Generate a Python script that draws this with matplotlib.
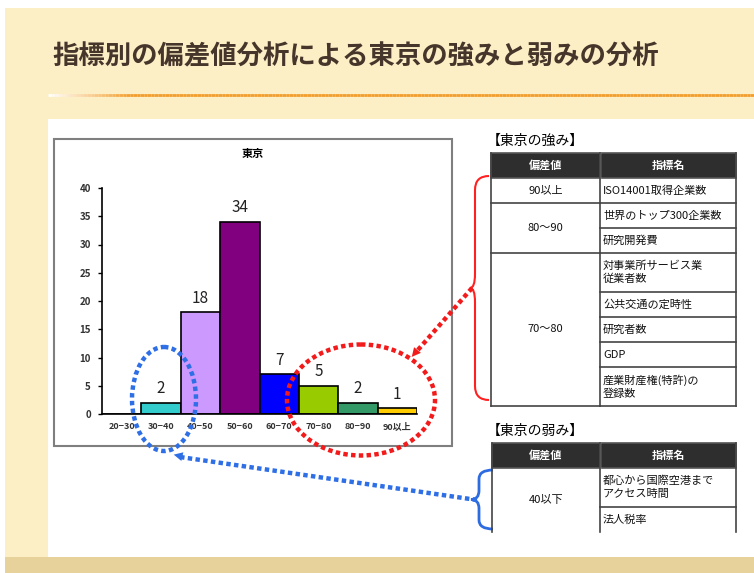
import matplotlib
matplotlib.use('Agg')
import matplotlib.pyplot as plt
from matplotlib.patches import Rectangle, Ellipse, PathPatch
from matplotlib.path import Path
from matplotlib.collections import LineCollection
import numpy as np

plt.rcParams['font.family'] = ['Noto Sans CJK JP', 'DejaVu Sans']

# data
title = '指標別の偏差値分析による東京の強みと弱みの分析'
chart_title = '東京'
ranges = ['20−30', '30−40', '40−50', '50−60', '60−70', '70−80', '80−90', '90以上']
counts = [0, 2, 18, 34, 7, 5, 2, 1]
bar_colors = ['#FFFFFF', '#33CCCC', '#CC99FF', '#800080', '#0000FF', '#99CC00', '#339966', '#FFCC00']
y_ticks = [0, 5, 10, 15, 20, 25, 30, 35, 40]

table_columns = ['偏差値', '指標名']
strength_title = '【東京の強み】'
strength_groups = ['90以上', '80～90', '70～80']
strength_items = [['ISO14001取得企業数'],
                  ['世界のトップ300企業数', '研究開発費'],
                  ['対事業所サービス業\n従業者数', '公共交通の定時性', '研究者数', 'GDP',
                   '産業財産権(特許)の\n登録数']]
weak_title = '【東京の弱み】'
weak_groups = ['40以下']
weak_items = [['都心から国際空港まで\nアクセス時間', '法人税率']]

W, H = 754, 573
fig = plt.figure(figsize=(W / 100, H / 100), dpi=100)
fig.patch.set_facecolor('white')

# background / slide decoration (pixel coords)
bg = fig.add_axes([0, 0, 1, 1])
bg.set_xlim(0, W)
bg.set_ylim(H, 0)
bg.axis('off')
bg.add_patch(Rectangle((5, 8), W - 5, H - 8, fc='#FCEEC5', ec='none'))
bg.add_patch(Rectangle((5, 557), W - 5, 16, fc='#E8D29C', ec='none'))
bg.add_patch(Rectangle((48, 119), W - 48, 438, fc='white', ec='none'))

# orange rule fading in from the left
xs = np.linspace(48, W, 200)
segs = [[(xs[i], 95), (xs[i + 1], 95)] for i in range(len(xs) - 1)]
orange = np.array([0.95, 0.62, 0.18])
fade = np.clip((xs[:-1] - 48) / 80, 0, 1)[:, None]
cols = (1 - fade) * np.array([1, 1, 1]) + fade * orange
bg.add_collection(LineCollection(segs, colors=cols, linewidths=2))

fig.text(52 / W, 1 - 57 / H, title, fontsize=19, fontweight='bold', color='#45352A',
         ha='left', va='center')

# chart frame
bg.add_patch(Rectangle((54, 139), 398, 307, fc='white', ec='#7F7F7F', lw=1.5))
bg.text(253, 154, chart_title, fontsize=8, fontweight='bold', ha='center', va='center')

# histogram
ax = fig.add_axes([102 / W, 1 - 414 / H, 315 / W, 226 / H])
ax.set_facecolor('none')
x = np.arange(len(ranges))
bars = ax.bar(x, counts, width=1.0, color=bar_colors, edgecolor='black', linewidth=1.2)
for xi, c in zip(x, counts):
    if c > 0:
        ax.annotate(str(c), (xi, c), xytext=(0, 4), textcoords='offset points',
                    ha='center', va='bottom', fontsize=11, color='#222222')
ax.set_xlim(-0.5, len(ranges) - 0.5)
ax.set_ylim(0, 40)
ax.set_yticks(y_ticks)
ax.set_xticks(x)
ax.set_xticklabels(ranges, fontsize=6.5, fontweight='bold', color='#333333')
ax.tick_params(axis='x', length=0, pad=6)
ax.tick_params(axis='y', length=3, width=1, labelsize=7, pad=5, labelcolor='#333333')
for t in ax.get_yticklabels():
    t.set_fontweight('bold')
for s in ['top', 'right']:
    ax.spines[s].set_visible(False)
for s in ['left', 'bottom']:
    ax.spines[s].set_linewidth(1.2)


def row_height(text):
    return 11 + 14 * (text.count('\n') + 1)


def draw_table(x0, xmid, x1, top, groups, items, open_bottom=False):
    head_h = 25
    bg.add_patch(Rectangle((x0, top), x1 - x0, head_h, fc='#2E2E2E', ec='#555555', lw=1.2))
    bg.plot([xmid, xmid], [top, top + head_h], color='#BBBBBB', lw=1)
    bg.text((x0 + xmid) / 2, top + head_h / 2, table_columns[0], color='white',
            fontsize=8, fontweight='bold', ha='center', va='center')
    bg.text((xmid + x1) / 2, top + head_h / 2, table_columns[1], color='white',
            fontsize=8, fontweight='bold', ha='center', va='center')
    y = top + head_h
    for gi, (g, its) in enumerate(zip(groups, items)):
        gy = y
        for ii, it in enumerate(its):
            h = row_height(it)
            bg.text(xmid + 3, y + h / 2, it, fontsize=8, ha='left', va='center',
                    linespacing=1.35, color='#111111')
            y += h
            last = gi == len(groups) - 1 and ii == len(its) - 1
            if not (last and open_bottom):
                bg.plot([xmid, x1], [y, y], color='#444444', lw=1.2)
        bg.text((x0 + xmid) / 2, (gy + y) / 2, g, fontsize=8, ha='center', va='center',
                color='#111111')
        if not (gi == len(groups) - 1 and open_bottom):
            bg.plot([x0, xmid], [y, y], color='#444444', lw=1.2)
    for xx in (x0, xmid, x1):
        bg.plot([xx, xx], [top, y], color='#444444', lw=1.2)


bg.text(487, 141, strength_title, fontsize=10, ha='left', va='center')
draw_table(491, 600, 736, 153, strength_groups, strength_items)
bg.text(487, 431, weak_title, fontsize=10, ha='left', va='center')
draw_table(492, 600, 736, 443, weak_groups, weak_items, open_bottom=True)


def brace(x_end, x_spine, x_tip, y0, y1, r, color, lw):
    ym = (y0 + y1) / 2
    verts = [(x_end, y0), (x_spine, y0), (x_spine, y0 + r),
             (x_spine, ym - r), (x_spine, ym), (x_tip, ym),
             (x_spine, ym), (x_spine, ym + r),
             (x_spine, y1 - r), (x_spine, y1), (x_end, y1)]
    codes = [Path.MOVETO, Path.CURVE3, Path.CURVE3,
             Path.LINETO, Path.CURVE3, Path.CURVE3,
             Path.CURVE3, Path.CURVE3,
             Path.LINETO, Path.CURVE3, Path.CURVE3]
    bg.add_patch(PathPatch(Path(verts, codes), fc='none', ec=color, lw=lw))


brace(489, 475, 470, 176, 400, 14, '#FF2020', 1.5)
brace(493, 479, 471, 470, 529, 9, '#2D6BE0', 2)

# overlay: dotted ellipses and arrows
ov = fig.add_axes([0, 0, 1, 1], zorder=5)
ov.set_facecolor('none')
ov.set_xlim(0, W)
ov.set_ylim(H, 0)
ov.axis('off')
red = '#F21A1A'
blue = '#2F6FE6'
dots = (0, (1.0, 0.75))
ov.add_patch(Ellipse((361, 400), 148, 111, fill=False, ec=red, lw=3.2, ls=dots))
ov.add_patch(Ellipse((164, 399), 64, 104, fill=False, ec=blue, lw=3.2, ls=dots))
ov.plot([472, 417], [288, 351], color=red, lw=3.2, ls=dots)
ov.annotate('', xy=(410, 359), xytext=(420, 347),
            arrowprops=dict(arrowstyle='-|>', color=red, lw=0, mutation_scale=16))
ov.plot([477, 180], [500, 457], color=blue, lw=3.2, ls=dots)
ov.annotate('', xy=(171, 454), xytext=(184, 457),
            arrowprops=dict(arrowstyle='-|>', color=blue, lw=0, mutation_scale=16))

fig.savefig('out.png', dpi=100)
